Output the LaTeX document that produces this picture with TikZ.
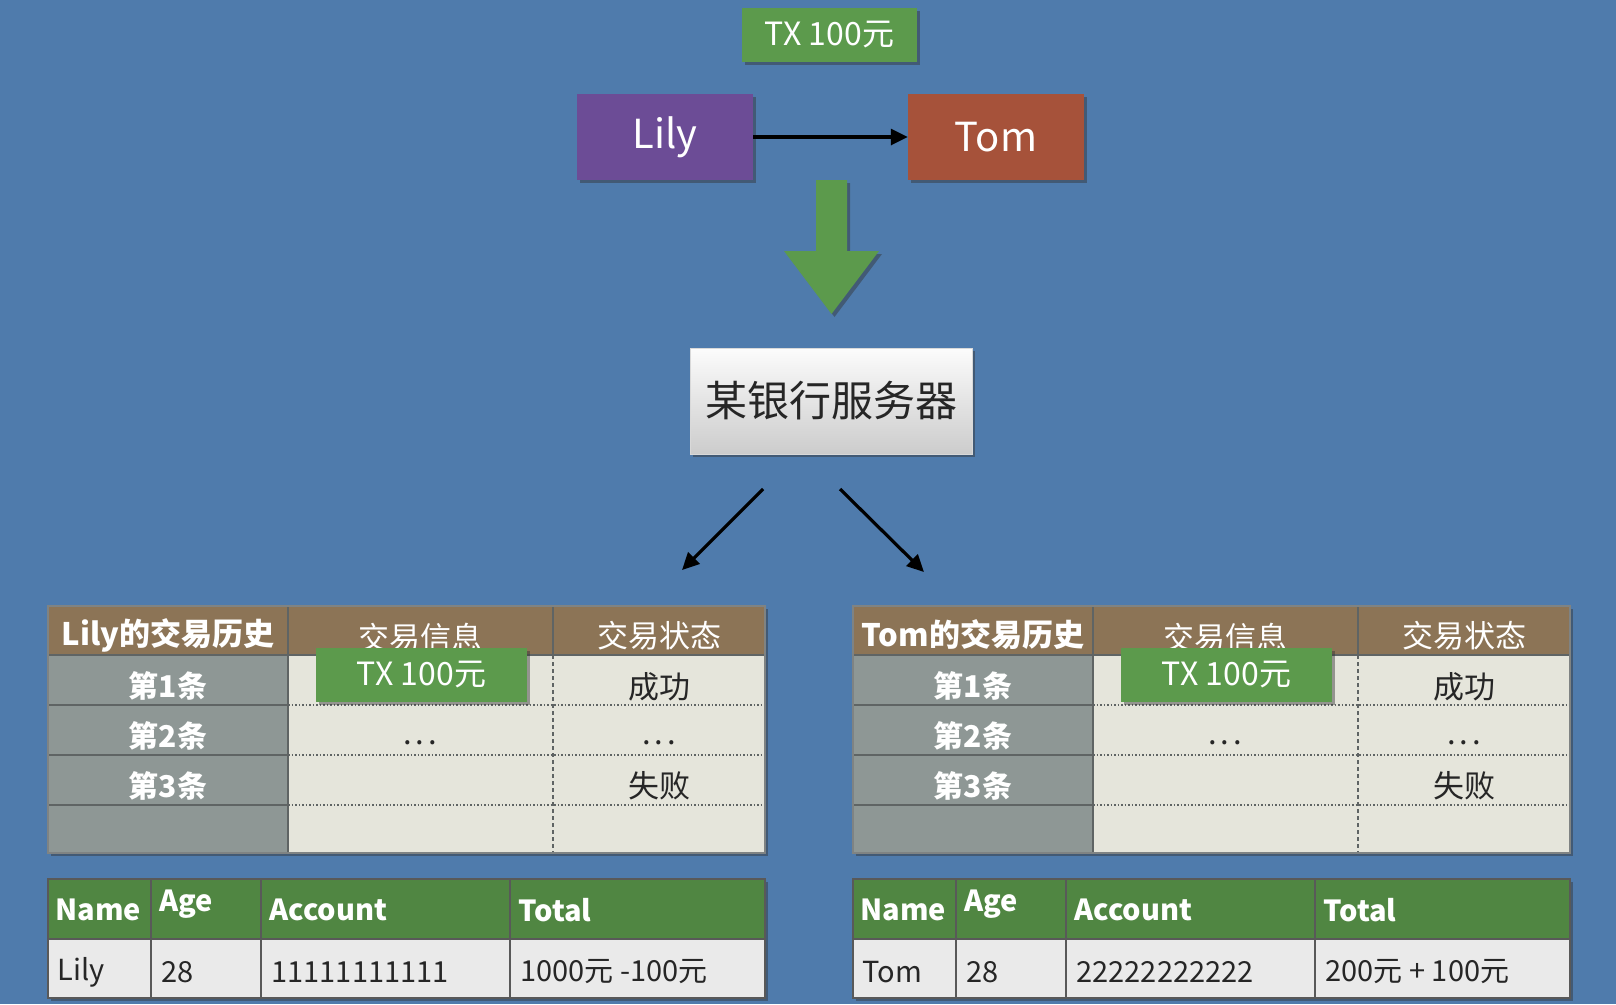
\documentclass[tikz,border=0pt]{standalone}
\usepackage{fontspec}
\setmainfont{Noto Sans CJK SC}
\usetikzlibrary{arrows.meta,shadows}
\definecolor{bgblue}{RGB}{79,123,172}
\definecolor{txgreen}{RGB}{92,154,76}
\definecolor{lilypurple}{RGB}{108,76,150}
\definecolor{tomrust}{RGB}{166,82,58}
\definecolor{hdrbrown}{RGB}{140,116,86}
\definecolor{colgray}{RGB}{142,151,149}
\definecolor{cellbg}{RGB}{229,229,219}
\definecolor{btgreen}{RGB}{80,134,66}
\definecolor{btrow}{RGB}{234,234,234}
\definecolor{gridgray}{RGB}{95,100,100}
\definecolor{srvtop}{RGB}{252,252,252}
\definecolor{srvbot}{RGB}{204,204,204}
\newcommand\fs[1]{\fontsize{#1}{#1}\selectfont}
\tikzset{
  shad/.style={drop shadow={shadow xshift=3pt,shadow yshift=-3pt,opacity=.45,fill=black!80}},
  bigbox/.style={inner sep=0pt,text=white,font=\fs{40},shad},
  txbox/.style={fill=txgreen,inner sep=0pt,minimum width=211pt,minimum height=54pt,text=white,font=\fs{32},shad},
  conn/.style={line width=3.2pt,-{Triangle[length=17pt,width=16pt]}},
  gridline/.style={draw=gridgray,line width=1.8pt},
  dotline/.style={draw=gridgray,line width=1.3pt,dash pattern=on 1.5pt off 2pt},
  dashline/.style={draw=gridgray,line width=1.3pt,dash pattern=on 4pt off 3pt},
  hdrtext/.style={text=white,font=\bfseries\fs{31}},
  rowtext/.style={text=white,font=\bfseries\fs{30}},
  celltext/.style={text=black!85,font=\fs{31}},
  bthdr/.style={text=white,font=\bfseries\fs{29},anchor=west},
  btcell/.style={text=black!85,font=\fs{29},anchor=west},
}
\newcommand\histtab[3]{% prefix, title, xshift
\begin{scope}[xshift=#3pt]
  \fill[cellbg,shad] (48,606) rectangle (765,853);
  \fill[hdrbrown] (48,606) rectangle (765,655);
  \fill[colgray] (48,655) rectangle (288,853);
  \draw[gridline] (288,606) -- (288,853);
  \draw[gridline] (553,606) -- (553,655);
  \draw[dashline] (553,655) -- (553,853);
  \draw[gridline] (48,655) -- (765,655);
  \foreach \yy in {705,755,805} {
    \draw[gridline] (48,\yy) -- (288,\yy);
    \draw[dotline] (288,\yy) -- (765,\yy);
  }
  \draw[gridline,draw=gridgray!80] (48,606) rectangle (765,853);
  \node[hdrtext] (#1h1) at (168,635) {#2};
  \node[hdrtext,font=\fs{31}] (#1h2) at (420,638) {交易信息};
  \node[hdrtext,font=\fs{31}] (#1h3) at (659,636) {交易状态};
  \node[rowtext] (#1r1) at (168,686) {第1条};
  \node[rowtext] (#1r2) at (168,736) {第2条};
  \node[rowtext] (#1r3) at (168,786) {第3条};
  \node[celltext] (#1s1) at (659,687) {成功};
  \node[celltext] (#1i2) at (420,743) {.\hspace{4pt}.\hspace{4pt}.};
  \node[celltext] (#1s2) at (659,743) {.\hspace{4pt}.\hspace{4pt}.};
  \node[celltext] (#1s3) at (659,786) {失败};
  \node[txbox] (#1tx) at (421.5,675) {TX 100元};
\end{scope}}
\newcommand\acctab[5]{% prefix, xshift, name, account, total
\begin{scope}[xshift=#2pt]
  \fill[btrow,shad] (48,879) rectangle (765,998);
  \fill[btgreen] (48,879) rectangle (765,939);
  \draw[gridline,draw=gray!70!black] (48,879) rectangle (765,998);
  \draw[gridline,draw=gray!70!black] (48,939) -- (765,939);
  \foreach \xx in {151,261,510} {\draw[gridline,draw=gray!70!black] (\xx,879) -- (\xx,998);}
  \node[bthdr] (#1n) at (52,910) {Name};
  \node[bthdr] (#1a) at (156,904) {Age};
  \node[bthdr] (#1c) at (266,910) {Account};
  \node[bthdr] (#1t) at (515,910) {Total};
  \node[btcell] (#1vn) at (54,972) {#3};
  \node[btcell] (#1va) at (158,972) {28};
  \node[btcell] (#1vc) at (268,972) {#4};
  \node[btcell] (#1vt) at (517,972) {#5};
\end{scope}}
\begin{document}
\begin{tikzpicture}[x=1pt,y=-1pt]
\fill[bgblue] (0,0) rectangle (1616,1004);
\useasboundingbox (0,0) rectangle (1616,1004);
% top
\node[txbox,minimum width=175pt] (txtop) at (829.5,35) {TX 100元};
\node[bigbox,fill=lilypurple,minimum width=176pt,minimum height=86pt] (lily) at (665,137) {Lily};
\node[bigbox,fill=tomrust,minimum width=176pt,minimum height=86pt] (tom) at (996,137) {Tom};
\draw[conn] (lily.east) -- (tom.west);
% big green arrow
\fill[txgreen,shad] (816,180) -- (847,180) -- (847,251) -- (879,251) -- (831.5,314) -- (784,251) -- (816,251) -- cycle;
% server
\node[inner sep=0pt,minimum width=282pt,minimum height=106pt,top color=srvtop,bottom color=srvbot,draw=white!85!black,line width=.8pt,font=\fs{42},text=black!85,shad] (srv) at (831,401) {某银行服务器};
\coordinate (la) at (763,489);
\coordinate (lb) at (682,570);
\coordinate (ra) at (840,489);
\coordinate (rb) at (924,572);
\draw[conn] (la) -- (lb);
\draw[conn] (ra) -- (rb);
% tables
\histtab{L}{Lily的交易历史}{0}
\histtab{T}{Tom的交易历史}{805}
\acctab{LA}{0}{Lily}{11111111111}{1000元 -100元}
\acctab{TA}{805}{Tom}{22222222222}{200元 + 100元}
\end{tikzpicture}
\end{document}
